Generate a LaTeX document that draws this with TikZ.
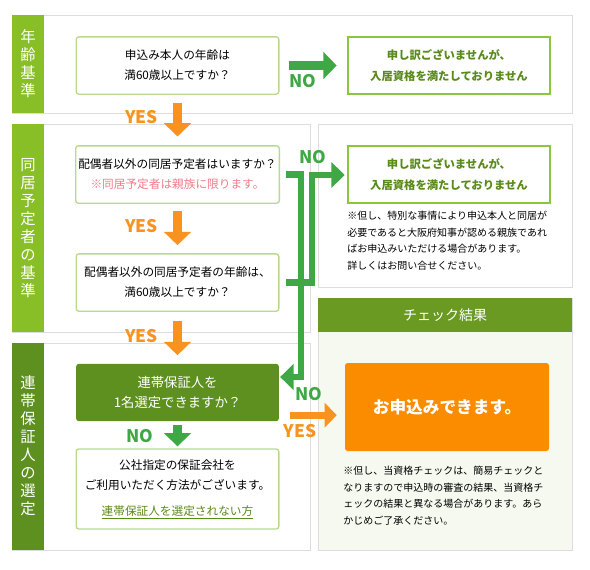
\documentclass[tikz,border=0pt]{standalone}
\usepackage{fontspec}
\setmainfont{Noto Sans CJK JP}
\usepackage{xcolor}
\usepackage{tikz}
\usetikzlibrary{arrows.meta,positioning}

\definecolor{barlight}{HTML}{88BE26}
\definecolor{bardark}{HTML}{5E9020}
\definecolor{headgreen}{HTML}{6A9A22}
\definecolor{panelgray}{HTML}{DDDDDD}
\definecolor{qborder}{HTML}{B9DA8E}
\definecolor{ngborder}{HTML}{8CC63F}
\definecolor{ngtext}{HTML}{5A8A1A}
\definecolor{nogreen}{HTML}{3FA845}
\definecolor{yesorange}{HTML}{F7931E}
\definecolor{okorange}{HTML}{FB8C00}
\definecolor{okbg}{HTML}{F5F9EF}
\definecolor{notepink}{HTML}{F27B8A}
\definecolor{linkgreen}{HTML}{5A8A1A}

\begin{document}
\begin{tikzpicture}[
  x=0.75pt, y=-0.75pt,
  font=\fontsize{8.75pt}{15pt}\selectfont,
  panel/.style={draw=panelgray, line width=0.75pt},
  barlabel/.style={text=white, align=center, inner sep=0pt, font=\fontsize{11.5pt}{13.5pt}\selectfont},
  qbox/.style={draw=qborder, line width=1pt, rounded corners=2pt, fill=white, align=center, minimum width=152pt, minimum height=43pt, inner sep=2pt},
  ngbox/.style={draw=ngborder, line width=1.5pt, fill=white, align=center, text=ngtext, minimum width=152pt, minimum height=43pt, inner sep=2pt, font=\bfseries\fontsize{8.5pt}{16pt}\selectfont},
  note/.style={align=left, anchor=north west, inner sep=0pt, font=\fontsize{7.5pt}{12.4pt}\selectfont},
  bigarrow/.style={line width=7pt, -{Triangle[width=20pt,length=10pt]}},
  yesarrow/.style={bigarrow, draw=yesorange},
  noarrow/.style={bigarrow, draw=nogreen},
  noline/.style={draw=nogreen, line width=5pt, -{Triangle[width=19pt,length=10pt]}},
  yeslabel/.style={text=yesorange, inner sep=0pt, font=\bfseries\fontsize{13pt}{13pt}\selectfont},
  nolabel/.style={text=nogreen, inner sep=0pt, font=\bfseries\fontsize{13pt}{13pt}\selectfont}
]
\useasboundingbox (0,0) rectangle (590,569);

% panels
\draw[panel] (12,15) rectangle (572,113);
\draw[panel] (12,124) rectangle (310,332);
\draw[panel] (318,124) rectangle (572,287);
\draw[panel] (12,343) rectangle (310,550);
\draw[panel, fill=okbg] (318,298) rectangle (572,550);
\fill[barlight] (12,15) rectangle (44,113);
\fill[barlight] (12,124) rectangle (44,332);
\fill[bardark] (12,343) rectangle (44,550);
\fill[headgreen] (318,298) rectangle (572,332);

\node[barlabel] (lab1) at (28,64) {年\\齢\\基\\準};
\node[barlabel] (lab2) at (28,228) {同\\居\\予\\定\\者\\の\\基\\準};
\node[barlabel] (lab3) at (28,446) {連\\帯\\保\\証\\人\\の\\選\\定};
\node[text=white, font=\fontsize{10.5pt}{12pt}\selectfont] (head) at (445,315) {チェック結果};

% questions
\node[qbox] (q1) at (177.5,65.5) {申込み本人の年齢は\\満60歳以上ですか？};
\node[qbox] (q2) at (177.5,174.5) {配偶者以外の同居予定者はいますか？\\{\color{notepink}※同居予定者は親族に限ります。}};
\node[qbox] (q3) at (177.5,282.5) {配偶者以外の同居予定者の年齢は、\\満60歳以上ですか？};
\node[qbox, draw=none, fill=bardark, text=white, font=\fontsize{10pt}{15pt}\selectfont] (q4) at (177.5,392.5) {連帯保証人を\\1名選定できますか？};
\node[qbox, minimum height=60pt] (q5) at (177.5,489) {公社指定の保証会社を\\ご利用いただく方法がございます。\\[4.5pt]{\color{linkgreen}\underline{連帯保証人を選定されない方}}};

% results
\node[ngbox] (ng1) at (449,65.5) {申し訳ございませんが、\\入居資格を満たしておりません};
\node[ngbox] (ng2) at (449,174.5) {申し訳ございませんが、\\入居資格を満たしておりません};
\node[note] (note1) at (347,211) {※但し、特別な事情により申込本人と同居が\\必要であると大阪府知事が認める親族であれ\\ばお申込みいただける場合があります。\\詳しくはお問い合せください。};
\node[fill=okorange, text=white, rounded corners=2pt, minimum width=153pt, minimum height=66pt, font=\bfseries\fontsize{12.5pt}{14pt}\selectfont] (ok) at (447,407) {お申込みできます。};
\node[note] (note2) at (343,466) {※但し、当資格チェックは、簡易チェックと\\なりますので申込時の審査の結果、当資格チ\\ェックの結果と異なる場合があります。あら\\かじめご了承ください。};

% arrows
\draw[yesarrow, shorten <=6pt, shorten >=6.5pt] (q1) -- (q2);
\draw[yesarrow, shorten <=5.5pt, shorten >=6pt] (q2) -- (q3);
\draw[yesarrow, shorten <=6.5pt, shorten >=6pt] (q3) -- (q4);
\draw[noarrow, shorten <=6.75pt, shorten >=7.5pt] (q1) -- (ng1);
\draw[noarrow, shorten <=2pt, shorten >=1.5pt] (q4) -- (q5);
\coordinate (yesfrom) at ([yshift=-17pt]q4.east);
\draw[yesarrow, line width=5.5pt, -{Triangle[width=18pt,length=9pt]}, shorten <=8pt, shorten >=6pt] (yesfrom) -- (yesfrom -| ok.west);

\coordinate (nA) at (301,377);
\coordinate (nB) at (312,175);
\draw[noline, shorten <=4.5pt, shorten >=0.5pt] (q2.east) -| (nA) -- (nA -| q4.east);
\draw[noline, shorten <=4.5pt, shorten >=1.5pt] (q3.east) -| (nB) -- (nB -| ng2.west);

\node[yeslabel] (yes1) at (141.5,117) {YES};
\node[yeslabel] (yes2) at (141.5,226) {YES};
\node[yeslabel] (yes3) at (141.5,336) {YES};
\node[yeslabel] (yes4) at (300,431) {YES};
\node[nolabel] (no1) at (303,81) {NO};
\node[nolabel] (no2) at (313,157) {NO};
\node[nolabel] (no3) at (309,394) {NO};
\node[nolabel] (no4) at (140,436) {NO};
\end{tikzpicture}
\end{document}
